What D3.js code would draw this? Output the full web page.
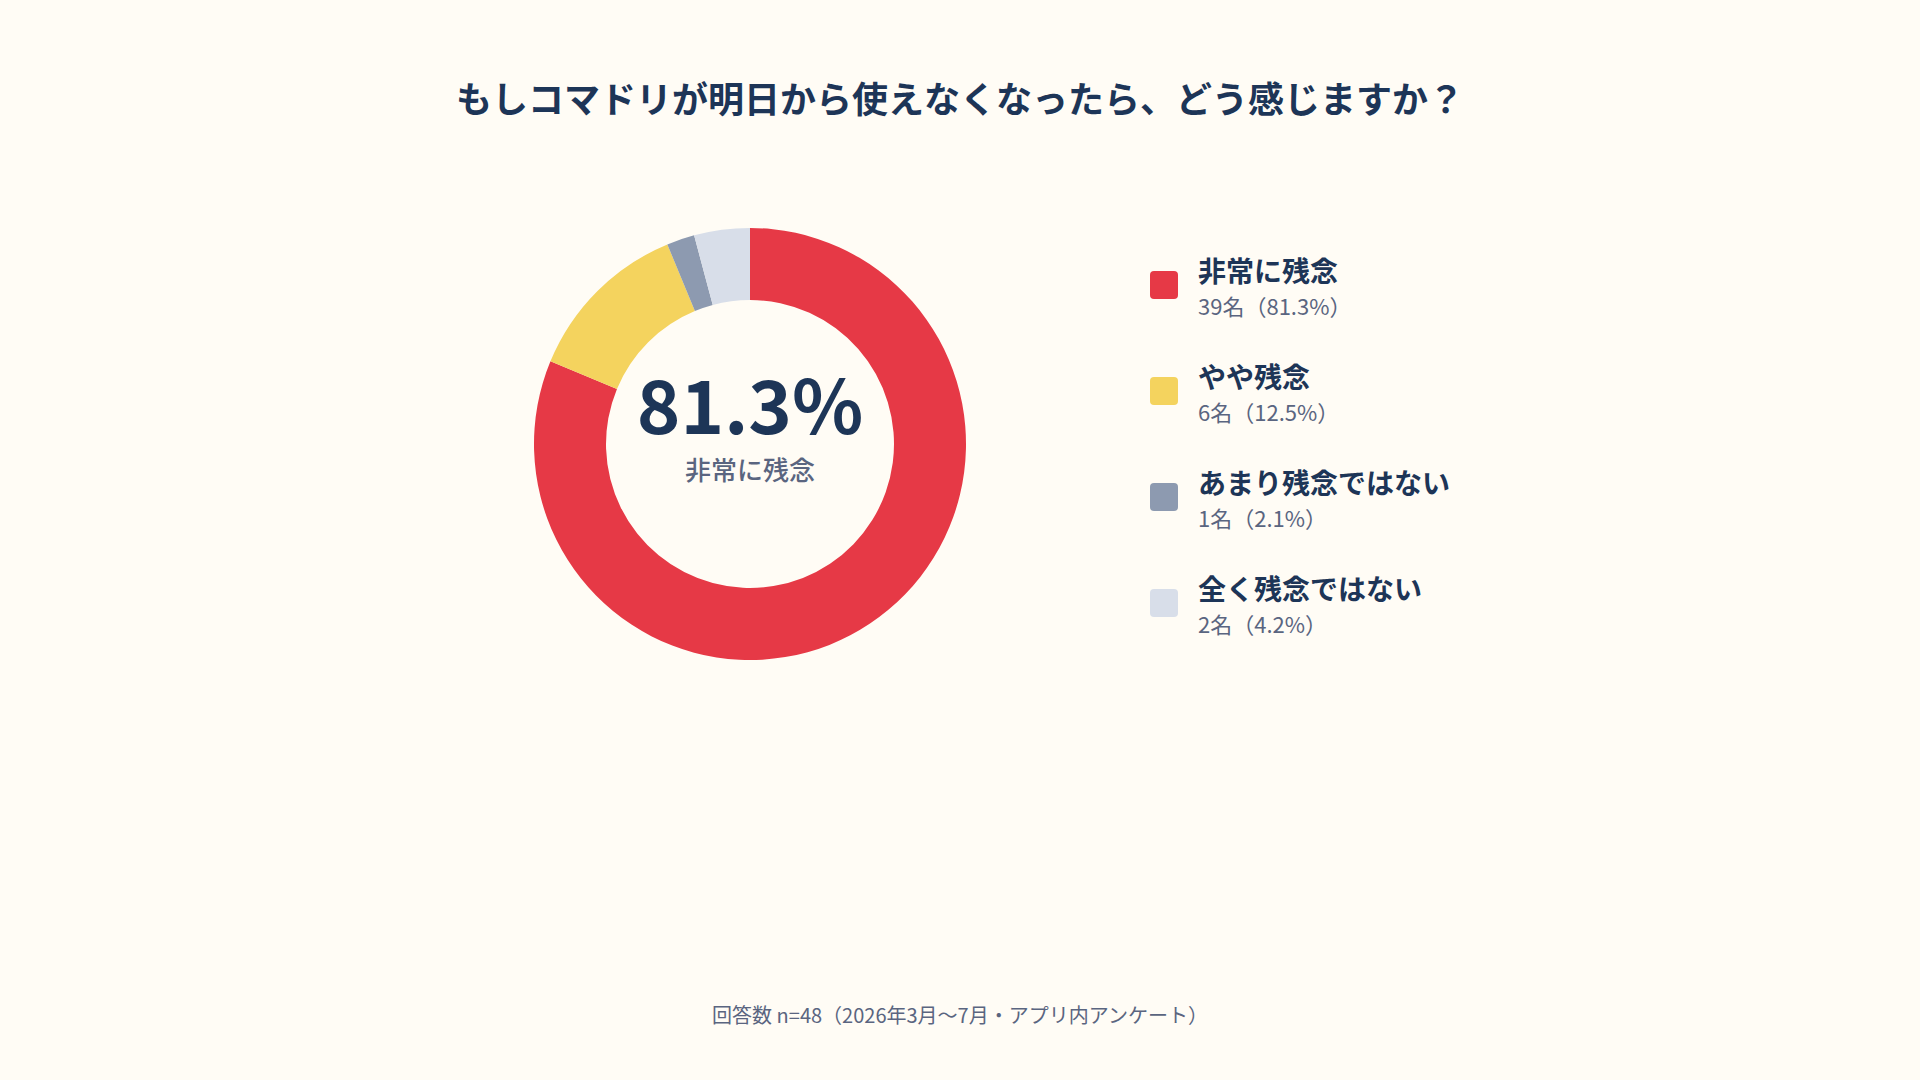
<!DOCTYPE html>
<html>
<head>
<meta charset="utf-8">
<script src="https://cdn.jsdelivr.net/npm/d3@7"></script>
<style>
  html, body { margin: 0; padding: 0; background: #fffcf5; }
  svg { display: block; }
  text { font-family: "Noto Sans CJK JP", "Noto Sans", sans-serif; }
</style>
</head>
<body>
<svg id="chart" width="1920" height="1080"></svg>
<script>
const titleText = "もしコマドリが明日から使えなくなったら、どう感じますか？";
const categories = ["非常に残念", "やや残念", "あまり残念ではない", "全く残念ではない"];
const counts = [39, 6, 1, 2];
const percentLabels = ["81.3%", "12.5%", "2.1%", "4.2%"];
const colors = ["#e63946", "#f4d35e", "#8d9ab0", "#d8dee9"];
const footerText = "回答数 n=48（2026年3月〜7月・アプリ内アンケート）";

const svg = d3.select("#chart");
const W = 1920, H = 1080;

svg.append("rect").attr("width", W).attr("height", H).attr("fill", "#fffcf5");

svg.append("text")
  .attr("x", 960).attr("y", 113)
  .attr("text-anchor", "middle")
  .attr("font-size", 36).attr("font-weight", 700)
  .attr("fill", "#1d3557")
  .text(titleText);

const data = categories.map((c, i) => ({ name: c, value: counts[i], pct: percentLabels[i], color: colors[i] }));

const pie = d3.pie().value(d => d.value).sort(null);
const arc = d3.arc().innerRadius(144).outerRadius(216);

const g = svg.append("g").attr("transform", "translate(750,444)");
g.selectAll("path")
  .data(pie(data))
  .join("path")
  .attr("d", arc)
  .attr("fill", d => d.data.color);

g.append("text")
  .attr("x", 0).attr("y", -10)
  .attr("text-anchor", "middle")
  .attr("font-size", 74).attr("font-weight", 700)
  .attr("fill", "#1d3557")
  .text(data[0].pct);

g.append("text")
  .attr("x", 0).attr("y", 36)
  .attr("text-anchor", "middle")
  .attr("font-size", 26).attr("font-weight", 500)
  .attr("fill", "#5a6580")
  .text(data[0].name);

const legendY = d3.scaleBand().domain(categories).range([232, 656]);
const legend = svg.append("g");
const items = legend.selectAll("g.item")
  .data(data)
  .join("g")
  .attr("class", "item")
  .attr("transform", d => `translate(1150,${legendY(d.name) + legendY.bandwidth() / 2})`);

items.append("rect")
  .attr("x", 0).attr("y", -14)
  .attr("width", 28).attr("height", 28)
  .attr("rx", 4)
  .attr("fill", d => d.color);

items.append("text")
  .attr("x", 48).attr("y", -3.5)
  .attr("font-size", 28).attr("font-weight", 700)
  .attr("fill", "#1d3557")
  .text(d => d.name);

items.append("text")
  .attr("x", 48).attr("y", 30)
  .attr("font-size", 22).attr("font-weight", 400)
  .attr("fill", "#5a6580")
  .text(d => `${d.value}名（${d.pct}）`);

svg.append("text")
  .attr("x", 960).attr("y", 1023)
  .attr("text-anchor", "middle")
  .attr("font-size", 20).attr("font-weight", 400)
  .attr("fill", "#5a6580")
  .text(footerText);
</script>
</body>
</html>
